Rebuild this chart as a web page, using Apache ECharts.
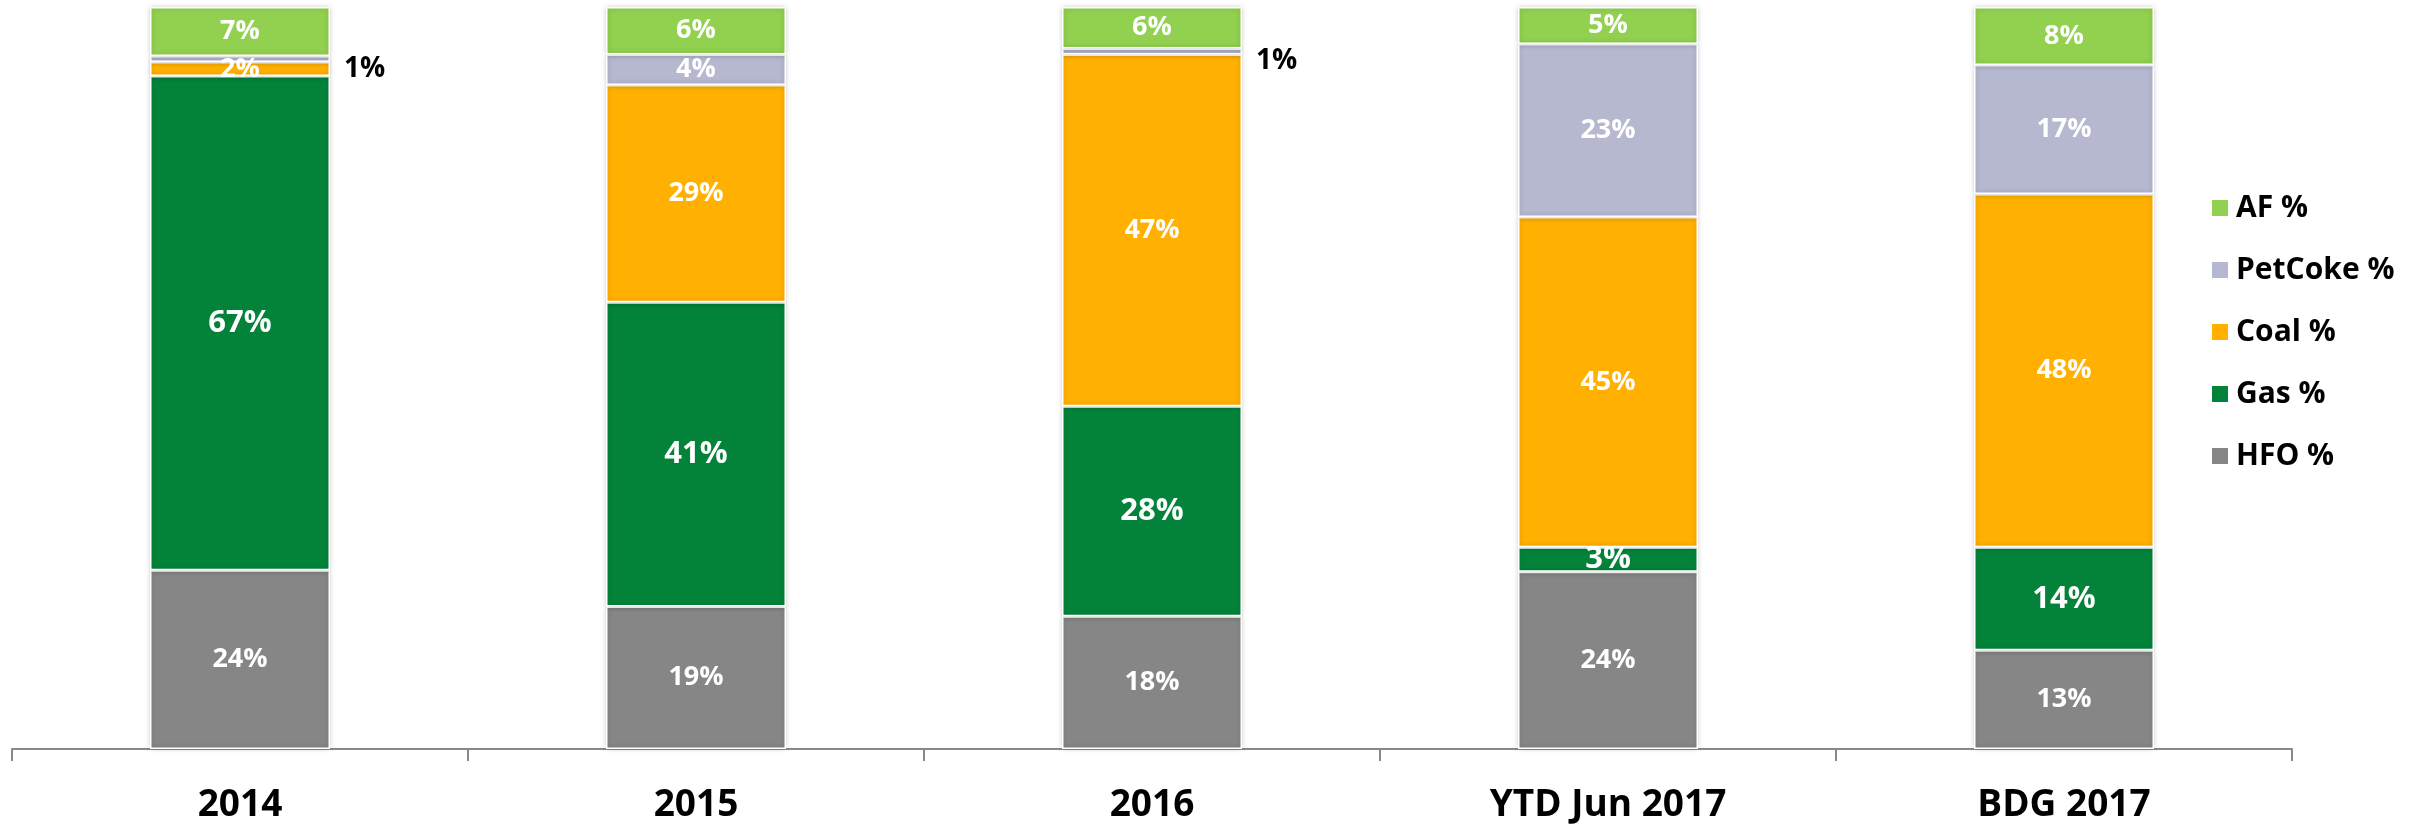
<!DOCTYPE html>
<html>
<head>
<meta charset="utf-8">
<script src="https://cdn.jsdelivr.net/npm/echarts@6/dist/echarts.min.js"></script>
<style>html,body{margin:0;padding:0;background:#fff;}#c{width:2425px;height:824px;}</style>
</head>
<body>
<div id="c"></div>
<script>
var categories = ['2014', '2015', '2016', 'YTD Jun 2017', 'BDG 2017'];
var hfo     = [24.1, 19.2, 17.9, 23.9, 13.3];
var gas     = [66.6, 41.0, 28.3, 3.3, 13.9];
var coal    = [1.9, 29.3, 47.4, 44.5, 47.6];
var petcoke = [0.8, 4.1, 0.8, 23.3, 17.4];
var af      = [6.6, 6.4, 5.6, 5.0, 7.8];
var legendOrder = ['AF %', 'PetCoke %', 'Coal %', 'Gas %', 'HFO %'];

var FONT = '"Open Sans", "Liberation Sans", sans-serif';

function fmt(p) { return Math.round(p.value) + '%'; }

function mkSeries(name, values, color, fontSize) {
  return {
    name: name,
    type: 'bar',
    stack: 'total',
    barWidth: 180,
    data: values.map(function (v) {
      if (v < 1.5) {
        return {
          value: v,
          label: { position: 'right', distance: 14, color: '#000', fontSize: 28, offset: [0, 10] }
        };
      }
      return v;
    }),
    itemStyle: {
      color: color,
      borderColor: '#ffffff',
      borderWidth: 1.5,
      shadowBlur: 5,
      shadowColor: 'rgba(0,0,0,0.22)'
    },
    label: {
      show: true,
      position: 'inside',
      formatter: fmt,
      color: '#ffffff',
      fontFamily: FONT,
      fontWeight: 'bold',
      fontSize: fontSize
    }
  };
}

var chart = echarts.init(document.getElementById('c'));
chart.setOption({
  animation: false,
  grid: { left: 12, right: 133, top: 7, bottom: 73, containLabel: false },
  legend: {
    orient: 'vertical',
    left: 2205,
    top: 188,
    data: legendOrder,
    icon: 'rect',
    itemWidth: 18,
    itemHeight: 18,
    itemGap: 32,
    textStyle: { fontFamily: FONT, fontWeight: 'bold', fontSize: 30, color: '#000', lineHeight: 30, padding: [0, 0, 0, 2] }
  },
  xAxis: {
    type: 'category',
    data: categories,
    axisLine: { lineStyle: { color: '#898989', width: 2 } },
    axisTick: { show: true, length: 12, lineStyle: { color: '#898989', width: 2 } },
    axisLabel: { color: '#000', fontFamily: FONT, fontWeight: 'bold', fontSize: 37, margin: 38 }
  },
  yAxis: {
    type: 'value',
    min: 0,
    max: 100,
    show: false,
    splitLine: { show: false }
  },
  series: [
    mkSeries('HFO %', hfo, '#868686', 27),
    mkSeries('Gas %', gas, '#03833A', 31),
    mkSeries('Coal %', coal, '#FFB000', 27),
    mkSeries('PetCoke %', petcoke, '#B5B8CF', 27),
    mkSeries('AF %', af, '#92D050', 27)
  ]
});
</script>
</body>
</html>
